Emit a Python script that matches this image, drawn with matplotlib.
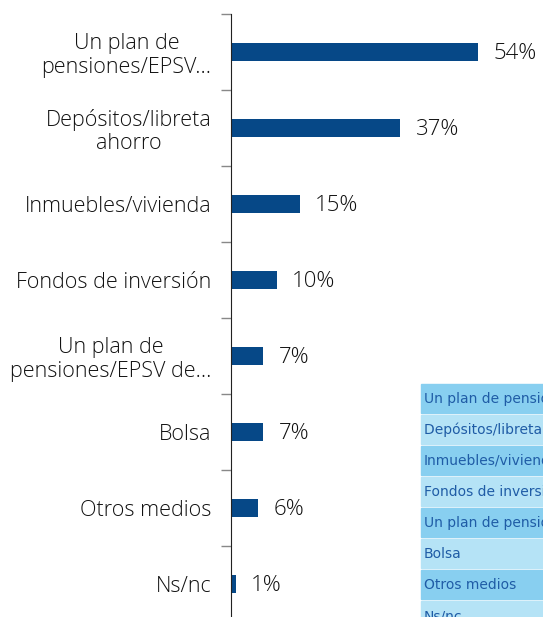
"""Horizontal bar chart: where people save (percent), with a clipped table overlay."""

import matplotlib.pyplot as plt
from matplotlib.patches import Rectangle

# data
categories = ['Un plan de\npensiones/EPSV...', 'Depósitos/libreta\nahorro',
              'Inmuebles/vivienda', 'Fondos de inversión',
              'Un plan de\npensiones/EPSV de...', 'Bolsa', 'Otros medios', 'Ns/nc']
values = [54, 37, 15, 10, 7, 7, 6, 1]
table_labels = ['Un plan de pensiones/EPSV', 'Depósitos/libreta ahorro',
                'Inmuebles/vivienda', 'Fondos de inversión',
                'Un plan de pensiones/EPSV de', 'Bolsa', 'Otros medios', 'Ns/nc']

plt.rcParams['font.family'] = ['Open Sans', 'DejaVu Sans']

W, H = 543, 617
fig = plt.figure(figsize=(W / 100, H / 100), dpi=100)
ax = fig.add_axes([231 / W, -5 / H, (W - 231) / W, 608 / H])

y = list(range(len(values)))
ax.barh(y, values, height=0.24, color='#064887')
for yi, v in zip(y, values):
    ax.text(v + 3.4, yi + 0.02, f'{v}%', va='center', ha='left', fontsize=16,
            fontweight='light', color='#111111')

ax.set_xlim(0, (W - 231) / 4.574)
ax.set_ylim(len(values) - 0.5, -0.5)
ax.set_yticks(y)
ax.set_yticklabels(categories, fontsize=15.5, fontweight='light',
                   multialignment='center', color='#111111', linespacing=1.15)
ax.set_yticks([i - 0.5 for i in range(len(values))], minor=True)
ax.tick_params(axis='y', which='major', length=0, pad=14)
ax.tick_params(axis='y', which='minor', length=7, color='#888888', width=1)
ax.set_xticks([])
for s in ['top', 'right', 'bottom']:
    ax.spines[s].set_visible(False)
ax.spines['left'].set_color('#222222')

# clipped table overlay at the bottom right
row_colors = ['#88cff0', '#b5e3f6']
for i, lab in enumerate(table_labels):
    top = 384 + i * 31.0
    fig.patches.append(Rectangle((421 / W, 1 - (top + 29) / H), 0.5, 29 / H,
                                 transform=fig.transFigure, color=row_colors[i % 2],
                                 zorder=5))
    fig.text(424 / W, 1 - (top + 15) / H, lab, fontsize=10, color='#1f5ca6',
             family='DejaVu Sans', va='center', ha='left', zorder=6)

fig.savefig('out.png', dpi=100)
